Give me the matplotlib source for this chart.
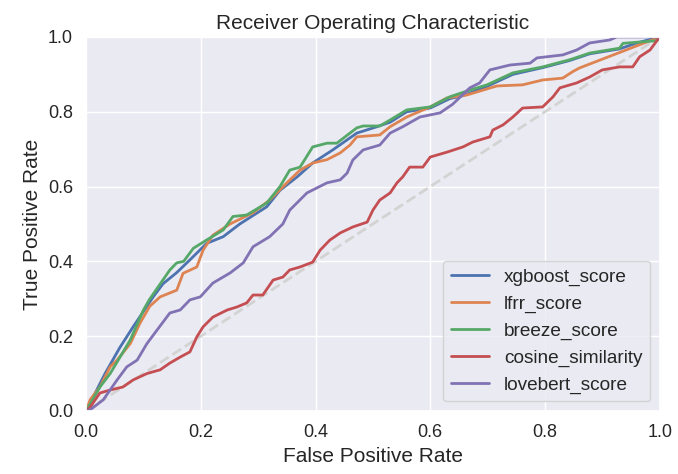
import matplotlib
matplotlib.use("Agg")
import matplotlib.pyplot as plt
import seaborn as sns

sns.set_theme(style="darkgrid")
plt.rcParams['font.family'] = ['Liberation Sans', 'DejaVu Sans']

# roc points (fpr, tpr)
xgb_fpr = [0, .01, .033, .059, .082, .117, .134, .158, .181, .21, .239, .268, .315, .338, .368, .395, .43, .472, .507,
           .53, .559, .6, .634, .657, .699, .744, .796, .843, .878, .93, .96, 1]
xgb_tpr = [0, .03, .10, .17, .225, .305, .34, .37, .404, .448, .466, .50, .546, .59, .626, .663, .698, .743, .76,
           .772, .80, .81, .835, .843, .868, .90, .918, .937, .955, .968, .984, 1]

lfrr_fpr = [0, .007, .024, .042, .054, .077, .094, .111, .129, .158, .169, .193, .204, .221, .251, .291, .32, .35,
            .373, .395, .42, .443, .46, .472, .512, .53, .559, .6, .629, .664, .716, .761, .796, .831, .848, .86, 1]
lfrr_tpr = [0, .03, .064, .118, .136, .18, .235, .28, .305, .323, .368, .385, .43, .47, .50, .53, .564, .61,
            .644, .663, .672, .69, .711, .733, .738, .76, .786, .813, .837, .845, .869, .872, .885, .89, .907, .917, 1]

breeze_fpr = [0, .024, .042, .077, .10, .11, .146, .158, .17, .187, .21, .239, .256, .28, .315, .338, .355, .373,
              .395, .42, .437, .472, .483, .512, .53, .559, .6, .634, .669, .699, .744, .796, .843, .878, .93,
              .936, .995, 1]
breeze_tpr = [0, .064, .10, .19, .27, .297, .377, .396, .40, .435, .457, .484, .52, .524, .556, .60, .644, .652,
              .706, .716, .716, .757, .762, .762, .778, .805, .813, .84, .858, .872, .904, .92, .939, .957, .97,
              .983, .99, 1]

cos_fpr = [0, .007, .024, .042, .064, .082, .106, .129, .146, .164, .181, .193, .204, .221, .246, .263, .28, .291,
           .308, .326, .343, .355, .373, .395, .408, .425, .443, .465, .49, .5, .512, .53, .542, .552, .564, .587,
           .6, .629, .657, .674, .704, .709, .727, .744, .761, .796, .814, .826, .855, .878, .9, .93, .953, .965,
           .983, 1]
cos_tpr = [0, .01, .048, .056, .064, .083, .10, .11, .128, .144, .158, .198, .225, .251, .27, .278, .289, .31,
           .31, .35, .358, .377, .385, .398, .43, .457, .476, .492, .505, .537, .564, .583, .61, .626, .652, .652,
           .679, .692, .706, .719, .733, .751, .765, .786, .81, .813, .84, .864, .877, .893, .912, .92, .92, .947,
           .965, 1]

love_fpr = [0, .007, .03, .054, .071, .089, .106, .124, .146, .164, .181, .199, .221, .251, .274, .291, .32, .343,
            .355, .385, .42, .443, .455, .465, .483, .512, .53, .552, .582, .617, .639, .669, .686, .704, .739,
            .774, .786, .831, .855, .878, .913, .925, 1]
love_tpr = [0, .003, .03, .083, .118, .136, .18, .217, .262, .27, .297, .305, .342, .369, .396, .439, .466, .50,
            .537, .583, .61, .618, .636, .671, .698, .711, .743, .76, .786, .797, .82, .864, .877, .912, .925,
            .93, .944, .952, .965, .984, .992, 1, 1]

names = ["xgboost_score", "lfrr_score", "breeze_score", "cosine_similarity", "lovebert_score"]
curves = [(xgb_fpr, xgb_tpr), (lfrr_fpr, lfrr_tpr), (breeze_fpr, breeze_tpr),
          (cos_fpr, cos_tpr), (love_fpr, love_tpr)]

fig = plt.figure(figsize=(6.78, 4.74), dpi=100)
ax = fig.add_axes([0.127, 0.133, 0.846, 0.789])

ax.plot([0, 1], [0, 1], linestyle="--", color="lightgray", lw=2)
for name, (f, t) in zip(names, curves):
    ax.plot(f, t, lw=2, label=name)

ax.set_xlim(0, 1)
ax.set_ylim(0, 1)
ax.tick_params(labelsize=13)
ax.set_xlabel("False Positive Rate", fontsize=15)
ax.set_ylabel("True Positive Rate", fontsize=15)
ax.set_title("Receiver Operating Characteristic", fontsize=15)
ax.legend(loc="lower right", fontsize=13.7)

fig.savefig("out.png")
